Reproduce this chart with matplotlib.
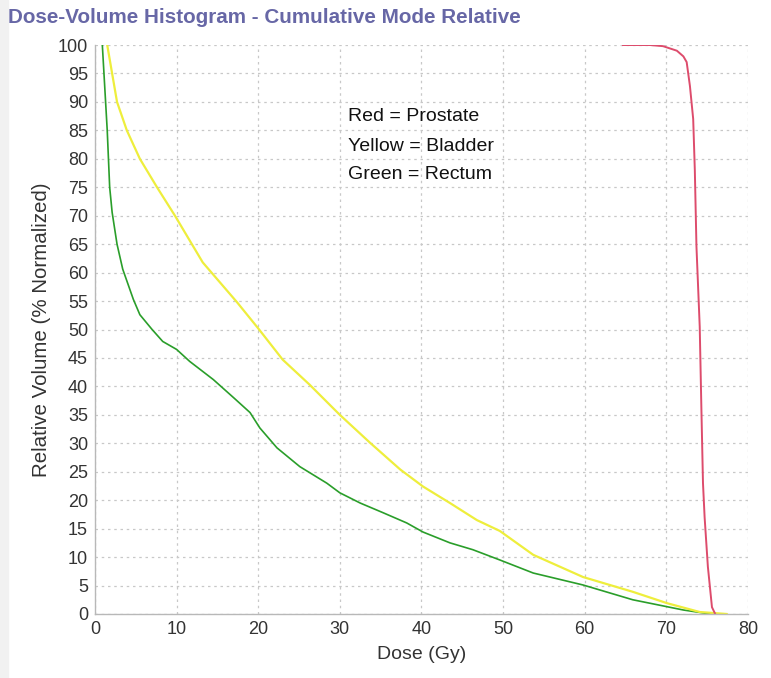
import matplotlib
matplotlib.use('Agg')
import matplotlib.pyplot as plt
from matplotlib.patches import Rectangle

# values (dose in Gy, volume in %)
red_dose = [64.7, 68.0, 69.6, 71.3, 72.1, 72.5, 72.9, 73.3, 73.5, 73.7, 74.1, 74.3, 74.5, 74.7, 75.1, 75.6, 76.0]
red_vol = [100, 100, 99.8, 99.0, 98, 97, 92.8, 87, 78, 64.6, 50.5, 36.4, 23, 17, 8.3, 1.2, 0]

yellow_dose = [1.5, 2.1, 2.7, 3.9, 5.5, 7.6, 9.8, 13.2, 17.4, 20.0, 23.0, 26.3, 30.0, 33.7, 37.4,
               40.2, 43.5, 46.8, 49.6, 53.7, 59.8, 65.9, 70.1, 74.1, 77.4]
yellow_vol = [100, 95, 90, 85, 80, 75, 70, 61.8, 54.8, 50.2, 44.7, 40.3, 35, 30.1, 25.4,
              22.4, 19.5, 16.5, 14.6, 10.4, 6.5, 3.9, 1.9, 0.35, 0]

green_dose = [0.9, 1.1, 1.5, 1.8, 2.1, 2.7, 3.4, 4.7, 5.5, 7.0, 8.3, 10.0, 11.6, 14.5, 17.0, 19.0,
              20.2, 22.3, 25.1, 28.4, 30.0, 32.5, 35.3, 38.2, 40.2, 43.5, 46.3, 49.6, 53.7, 59.8,
              65.9, 72.1, 75.4]
green_vol = [100, 95, 85, 75, 70.6, 65, 60.6, 55.3, 52.6, 50, 47.9, 46.5, 44.4, 41.2, 38, 35.4,
             32.7, 29.2, 25.9, 23, 21.3, 19.5, 17.8, 16, 14.4, 12.5, 11.3, 9.5, 7.2, 5.1,
             2.5, 0.7, 0]

x_ticks = list(range(0, 81, 10))
y_ticks = list(range(0, 101, 5))
legend_lines = ['Red = Prostate', 'Yellow = Bladder', 'Green = Rectum']
legend_y = [87.5, 82.2, 77.2]

plt.rcParams['font.family'] = ['Liberation Sans', 'DejaVu Sans']

fig = plt.figure(figsize=(7.71, 6.78), dpi=100)
fig.patches.append(Rectangle((0, 0), 0.011, 1, transform=fig.transFigure, color='#f1f1f1', zorder=0))
ax = fig.add_axes([0.1232, 0.0944, 0.8468, 0.8392])

ax.plot(green_dose, green_vol, color='#2a9e2a', linewidth=1.2)
ax.plot(yellow_dose, yellow_vol, color='#eeee3c', linewidth=1.6)
ax.plot(red_dose, red_vol, color='#dd4c6c', linewidth=1.4)

ax.set_xlim(0, 80)
ax.set_ylim(0, 100)
ax.set_xticks(x_ticks)
ax.set_yticks(y_ticks)
ax.tick_params(length=0, labelsize=13, labelcolor='#333333', pad=5)

ax.grid(True, color='#c8c8c8', linestyle=(0, (2, 3)), linewidth=0.9)
for s in ['top', 'right']:
    ax.spines[s].set_visible(False)
for s in ['left', 'bottom']:
    ax.spines[s].set_color('#b8b8b8')
    ax.spines[s].set_linewidth(1.0)

ax.set_xlabel('Dose (Gy)', fontsize=14, color='#333333', labelpad=6)
ax.set_ylabel('Relative Volume (% Normalized)', fontsize=14.8, color='#333333')
ax.yaxis.set_label_coords(-0.068, 0.5)

for txt, yy in zip(legend_lines, legend_y):
    ax.text(31.0, yy, txt, fontsize=14, color='#111111', va='center', ha='left')

fig.text(0.0104, 0.9735, 'Dose-Volume Histogram - Cumulative Mode Relative', fontsize=14.9,
         fontweight='bold', color='#6767a6', va='center', ha='left')

fig.savefig('out.png', dpi=100)
